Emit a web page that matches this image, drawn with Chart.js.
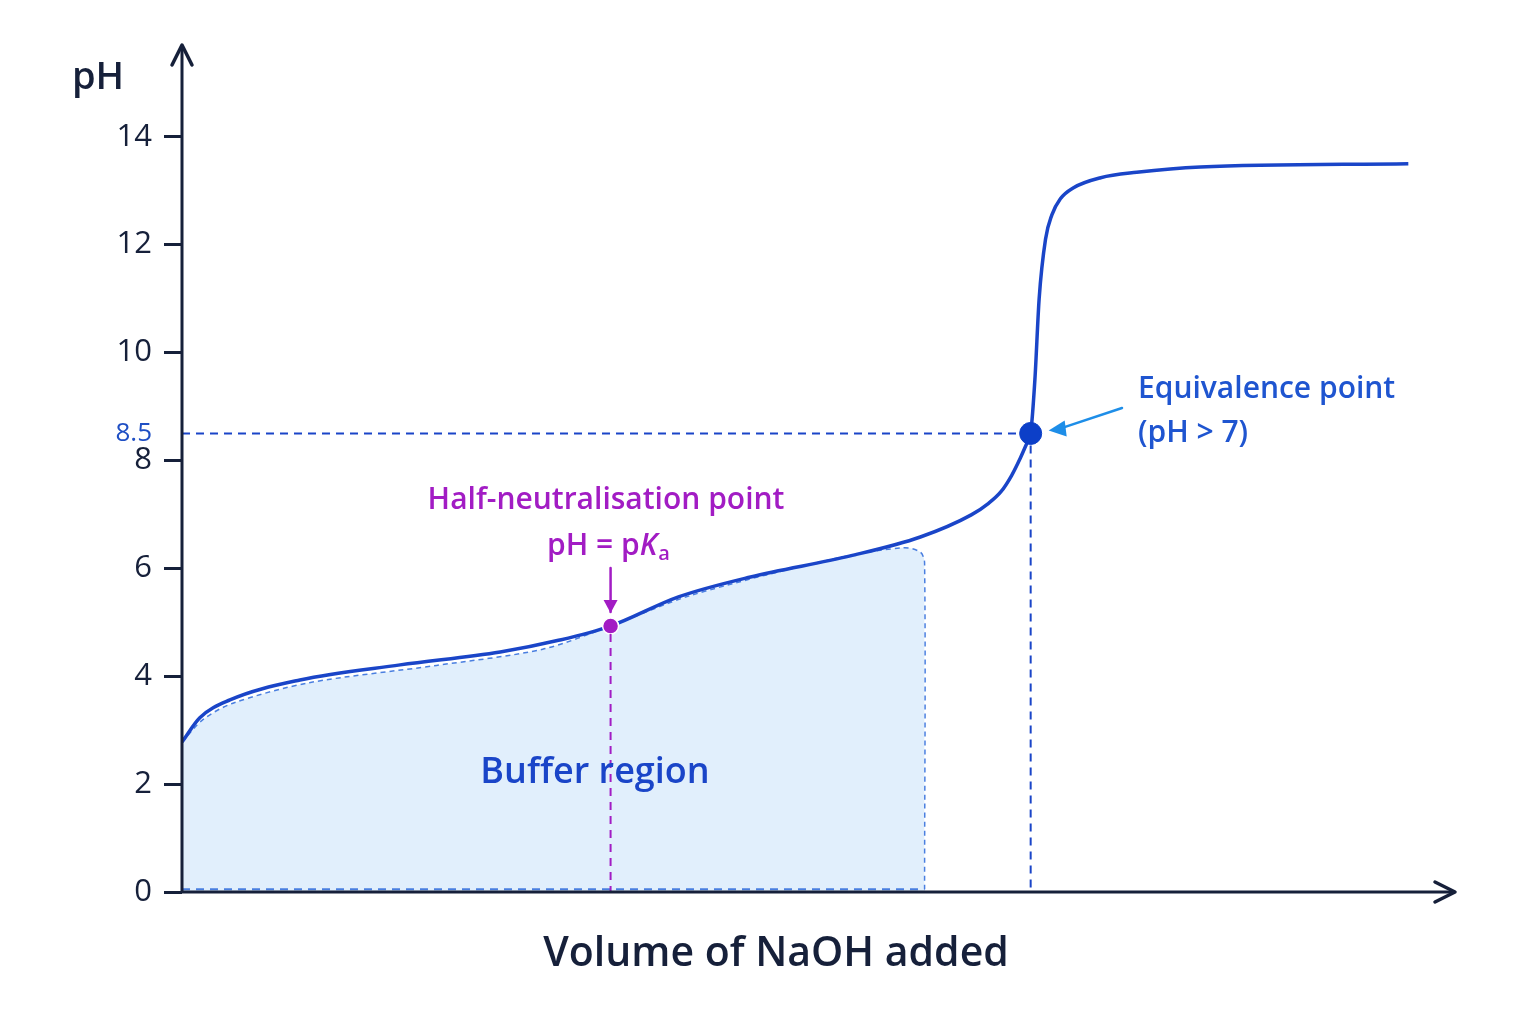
<!DOCTYPE html>
<html><head><meta charset="utf-8">
<script src="https://cdn.jsdelivr.net/npm/chart.js@4"></script>
<style>html,body{margin:0;background:#fff}#c{display:block}</style>
</head><body>
<div style="width:1536px;height:1024px"><canvas id="c" width="1536" height="1024"></canvas></div>
<script>
const volume = [0,0.42,1.13,2.78,5.14,7.5,8.9,10.1,11.7,13.4,15.75,17.4,18.6,19.0,19.3,19.55,19.76,19.9,20,20.1,20.2,20.35,20.5,20.7,21.0,21.65,22.5,24,28.9];
const pH     = [2.78,3.23,3.56,3.93,4.21,4.45,4.67,4.93,5.47,5.84,6.23,6.58,6.99,7.2,7.42,7.72,8.05,8.3,8.5,9.5,11.0,12.1,12.55,12.85,13.05,13.24,13.34,13.44,13.5];
const bufferX = [0,0.5,1.2,3,6,8.5,10.1,12,15.5,17,17.4,17.5,17.5];
const bufferY = [2.78,3.2,3.5,3.88,4.2,4.5,4.93,5.5,6.2,6.38,6.3,6.1,0.05];
const yTicks = [0,2,4,6,8,8.5,10,12,14];
const halfPoint = {x:10.1, y:4.93};
const eqPoint = {x:20, y:8.5};
const bufferEnd = 17.5;

const navy = '#16203a', blue = '#1a45c8', purple = '#a21cc4';
const F = '"Open Sans", sans-serif';

const overlay = {
  id:'overlay',
  afterDatasetsDraw(ch){
    const {ctx, scales:{x,y}} = ch;
    ctx.save();
    ctx.lineWidth=2; ctx.setLineDash([8,6]);
    ctx.strokeStyle=blue;
    ctx.beginPath();
    ctx.moveTo(x.getPixelForValue(0), y.getPixelForValue(eqPoint.y));
    ctx.lineTo(x.getPixelForValue(eqPoint.x)-12, y.getPixelForValue(eqPoint.y));
    ctx.moveTo(x.getPixelForValue(eqPoint.x), y.getPixelForValue(eqPoint.y)+12);
    ctx.lineTo(x.getPixelForValue(eqPoint.x), y.getPixelForValue(0));
    ctx.stroke();
    ctx.strokeStyle='#4a7fe0';
    ctx.beginPath();
    ctx.moveTo(x.getPixelForValue(0), y.getPixelForValue(0.05));
    ctx.lineTo(x.getPixelForValue(bufferEnd), y.getPixelForValue(0.05));
    ctx.stroke();
    ctx.strokeStyle=purple;
    ctx.beginPath();
    ctx.moveTo(x.getPixelForValue(halfPoint.x), y.getPixelForValue(halfPoint.y)+8);
    ctx.lineTo(x.getPixelForValue(halfPoint.x), y.getPixelForValue(0));
    ctx.stroke();
    ctx.restore();
  },
  afterDraw(ch){
    const {ctx, scales:{x,y}, chartArea:a} = ch;
    ctx.save();
    ctx.fillStyle=navy; ctx.strokeStyle=navy; ctx.lineWidth=3;
    ctx.beginPath(); ctx.moveTo(a.left,a.bottom); ctx.lineTo(a.left,a.top); ctx.moveTo(a.left,a.bottom); ctx.lineTo(a.right,a.bottom); ctx.stroke();
    ctx.lineWidth=3.5; ctx.lineCap='round'; ctx.lineJoin='round';
    ctx.beginPath(); ctx.moveTo(a.left-10,a.top+20); ctx.lineTo(a.left,a.top); ctx.lineTo(a.left+10,a.top+20); ctx.stroke();
    ctx.beginPath(); ctx.moveTo(a.right-20,a.bottom-10); ctx.lineTo(a.right,a.bottom); ctx.lineTo(a.right-20,a.bottom+10); ctx.stroke();
    ctx.fillStyle=navy; ctx.textBaseline='middle';
    ctx.font='600 38px '+F; ctx.textAlign='center';
    ctx.fillText('pH', 98, 78);
    ctx.font='600 41px '+F;
    ctx.fillText('Volume of NaOH added', 776, 954);
    ctx.fillStyle=blue; ctx.font='600 36px '+F;
    ctx.fillText('Buffer region', 595, 773);
    const hx=x.getPixelForValue(halfPoint.x), hy=y.getPixelForValue(halfPoint.y);
    ctx.fillStyle=purple; ctx.font='600 30px '+F;
    ctx.fillText('Half-neutralisation point', 606, 500);
    ctx.textAlign='left';
    const s1='pH = p', f1='600 30px '+F, f2='italic 600 30px '+F, f3='600 20px '+F;
    ctx.font=f1; const w1=ctx.measureText(s1).width; ctx.font=f2; const w2=ctx.measureText('K').width; ctx.font=f3; const w3=ctx.measureText('a').width;
    let sx=608-(w1+w2+w3)/2;
    ctx.font=f1; ctx.fillText(s1,sx,546); sx+=w1;
    ctx.font=f2; ctx.fillText('K',sx,546); sx+=w2;
    ctx.font=f3; ctx.fillText('a',sx+1,554);
    ctx.strokeStyle=purple; ctx.lineWidth=2.5;
    ctx.beginPath(); ctx.moveTo(hx,568); ctx.lineTo(hx,hy-14); ctx.stroke();
    ctx.beginPath(); ctx.moveTo(hx-7,hy-26); ctx.lineTo(hx,hy-13); ctx.lineTo(hx+7,hy-26); ctx.closePath(); ctx.fillStyle=purple; ctx.fill();
    const ex=x.getPixelForValue(eqPoint.x), ey=y.getPixelForValue(eqPoint.y);
    ctx.fillStyle='#1f55d0'; ctx.font='600 30px '+F;
    ctx.fillText('Equivalence point',1138,389);
    ctx.fillText('(pH > 7)',1138,433);
    ctx.strokeStyle='#1e8ee8'; ctx.fillStyle='#1e8ee8'; ctx.lineWidth=2.5;
    ctx.beginPath(); ctx.moveTo(1122,408); ctx.lineTo(ex+30,ey-5); ctx.stroke();
    ctx.beginPath(); ctx.moveTo(ex+18,ey-3); ctx.lineTo(ex+34,ey-13); ctx.lineTo(ex+36,ey+3); ctx.closePath(); ctx.fill();
    ctx.restore();
  }
};

new Chart(document.getElementById('c'), {
  type:'line',
  data:{datasets:[
    {data:volume.map((v,i)=>({x:v,y:pH[i]})), borderColor:blue, borderWidth:3.5, pointRadius:0, cubicInterpolationMode:'monotone', fill:false, order:1},
    {data:bufferX.map((v,i)=>({x:v,y:bufferY[i]})), borderColor:'#4a7fe0', borderWidth:1.5, borderDash:[5,4], backgroundColor:'rgba(205,228,250,0.6)', pointRadius:0, tension:0.3, fill:'origin', order:3},
    {data:[halfPoint], pointRadius:8, pointBackgroundColor:purple, pointBorderColor:'#fff', pointBorderWidth:1.5, showLine:false, order:0},
    {data:[eqPoint], pointRadius:11, pointBackgroundColor:'#0c3fc8', pointBorderColor:'#0c3fc8', showLine:false, order:0}
  ]},
  options:{
    responsive:false, animation:false, events:[],
    layout:{padding:{top:45,right:81,left:0,bottom:0}},
    plugins:{legend:{display:false}, tooltip:{enabled:false}},
    scales:{
      x:{type:'linear', min:0, max:30, grid:{display:false}, border:{display:false}, ticks:{display:false},
         afterFit(s){s.height=132;}},
      y:{type:'linear', min:0, max:15.7,
         afterBuildTicks(s){s.ticks=yTicks.map(v=>({value:v}));},
         afterFit(s){s.width=182;},
         grid:{drawOnChartArea:false, tickLength:18, color:navy, lineWidth:c=>c.tick&&c.tick.value===8.5?0:3},
         border:{display:false},
         ticks:{padding:12, color:c=>c.tick.value===8.5?'#1f4fc4':navy,
           font:c=>c.tick&&c.tick.value===8.5?{size:26,weight:'500',family:F}:{size:31,weight:'500',family:F},
           callback:v=>v===8.5?'8.5':String(v)}}
    }
  },
  plugins:[overlay]
});
</script>
</body></html>
